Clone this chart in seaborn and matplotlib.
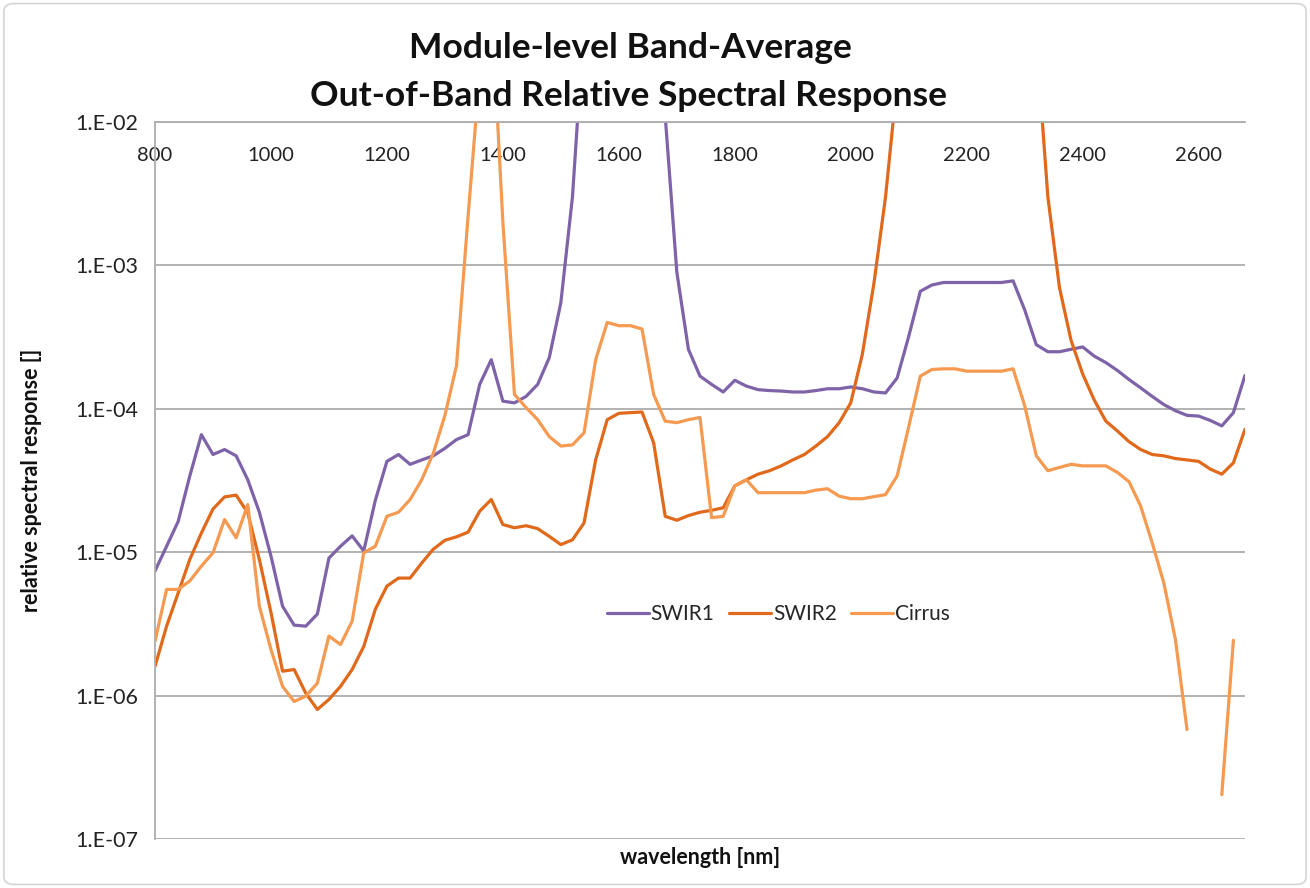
import numpy as np
import pandas as pd
import seaborn as sns
import matplotlib.pyplot as plt
from matplotlib.patches import FancyBboxPatch

# wavelength grid [nm]
wavelength = list(range(800, 2700, 20))

# band-average out-of-band relative spectral response
swir1 = [7.4e-6, 1.1e-5, 1.64e-5, 3.4e-5, 6.6e-5, 4.8e-5, 5.2e-5, 4.7e-5, 3.2e-5, 1.9e-5,
         9.4e-6, 4.2e-6, 3.1e-6, 3.05e-6, 3.7e-6, 9.1e-6, 1.1e-5, 1.3e-5, 1.02e-5, 2.3e-5,
         4.3e-5, 4.8e-5, 4.1e-5, 4.4e-5, 4.7e-5, 5.3e-5, 6.1e-5, 6.6e-5, 1.48e-4, 2.2e-4,
         1.13e-4, 1.1e-4, 1.22e-4, 1.48e-4, 2.27e-4, 5.5e-4, 3e-3, 5e-2, 1.0, 1.0,
         1.0, 1.0, 1.0, 1.0, 1.1e-2, 9e-4, 2.6e-4, 1.69e-4, 1.48e-4, 1.31e-4,
         1.58e-4, 1.44e-4, 1.36e-4, 1.34e-4, 1.33e-4, 1.31e-4, 1.31e-4, 1.34e-4, 1.38e-4, 1.38e-4,
         1.42e-4, 1.38e-4, 1.31e-4, 1.29e-4, 1.64e-4, 3.2e-4, 6.6e-4, 7.3e-4, 7.6e-4, 7.6e-4,
         7.6e-4, 7.6e-4, 7.6e-4, 7.6e-4, 7.8e-4, 4.9e-4, 2.8e-4, 2.5e-4, 2.5e-4, 2.6e-4,
         2.7e-4, 2.33e-4, 2.1e-4, 1.85e-4, 1.6e-4, 1.4e-4, 1.22e-4, 1.07e-4, 9.7e-5, 9.0e-5,
         8.9e-5, 8.3e-5, 7.6e-5, 9.4e-5, 1.71e-4]

swir2 = [1.6e-6, 3.05e-6, 5.2e-6, 8.9e-6, 1.36e-5, 2.0e-5, 2.43e-5, 2.5e-5, 1.88e-5, 8.9e-6,
         3.8e-6, 1.48e-6, 1.52e-6, 1.04e-6, 8.0e-7, 9.4e-7, 1.16e-6, 1.52e-6, 2.2e-6, 4.0e-6,
         5.8e-6, 6.6e-6, 6.6e-6, 8.4e-6, 1.05e-5, 1.21e-5, 1.28e-5, 1.38e-5, 1.93e-5, 2.33e-5,
         1.56e-5, 1.48e-5, 1.53e-5, 1.46e-5, 1.29e-5, 1.13e-5, 1.22e-5, 1.6e-5, 4.4e-5, 8.4e-5,
         9.3e-5, 9.4e-5, 9.5e-5, 5.8e-5, 1.78e-5, 1.67e-5, 1.8e-5, 1.9e-5, 1.96e-5, 2.04e-5,
         2.9e-5, 3.2e-5, 3.5e-5, 3.7e-5, 4.0e-5, 4.4e-5, 4.8e-5, 5.5e-5, 6.4e-5, 8.0e-5,
         1.1e-4, 2.4e-4, 7.5e-4, 3e-3, 1.9e-2, 0.1, 1.0, 1.0, 1.0, 1.0,
         1.0, 1.0, 1.0, 1.0, 1.0, 1.0, 3.8e-2, 3e-3, 7e-4, 3e-4,
         1.75e-4, 1.15e-4, 8.2e-5, 7.0e-5, 5.9e-5, 5.2e-5, 4.8e-5, 4.7e-5, 4.5e-5, 4.4e-5,
         4.3e-5, 3.8e-5, 3.5e-5, 4.2e-5, 7.2e-5]

cirrus = [2.4e-6, 5.5e-6, 5.5e-6, 6.3e-6, 8.0e-6, 9.9e-6, 1.69e-5, 1.26e-5, 2.15e-5, 4.2e-6,
          2.1e-6, 1.16e-6, 9.1e-7, 9.9e-7, 1.22e-6, 2.6e-6, 2.27e-6, 3.3e-6, 9.9e-6, 1.1e-5,
          1.78e-5, 1.9e-5, 2.33e-5, 3.2e-5, 4.9e-5, 9e-5, 2.0e-4, 2.2e-3, 2.2e-2, 7e-2,
          2e-3, 1.26e-4, 1.02e-4, 8.4e-5, 6.4e-5, 5.5e-5, 5.6e-5, 6.8e-5, 2.2e-4, 4.0e-4,
          3.8e-4, 3.8e-4, 3.6e-4, 1.26e-4, 8.2e-5, 8.0e-5, 8.4e-5, 8.7e-5, 1.74e-5, 1.78e-5,
          2.9e-5, 3.2e-5, 2.6e-5, 2.6e-5, 2.6e-5, 2.6e-5, 2.6e-5, 2.71e-5, 2.77e-5, 2.46e-5,
          2.36e-5, 2.36e-5, 2.44e-5, 2.52e-5, 3.4e-5, 7.5e-5, 1.69e-4, 1.88e-4, 1.9e-4, 1.9e-4,
          1.83e-4, 1.83e-4, 1.83e-4, 1.83e-4, 1.9e-4, 1.05e-4, 4.7e-5, 3.7e-5, 3.9e-5, 4.1e-5,
          4.0e-5, 4.0e-5, 4.0e-5, 3.6e-5, 3.1e-5, 2.1e-5, 1.16e-5, 6.1e-6, 2.46e-6, 5.8e-7,
          np.nan, np.nan, 2.04e-7, 2.43e-6, np.nan]

series_names = ['SWIR1', 'SWIR2', 'Cirrus']
colors = ['#7E63A8', '#E0691B', '#F59A50']

x_ticks = [800, 1000, 1200, 1400, 1600, 1800, 2000, 2200, 2400, 2600]
y_ticks = [1e-7, 1e-6, 1e-5, 1e-4, 1e-3, 1e-2]
y_tick_labels = ['1.E-07', '1.E-06', '1.E-05', '1.E-04', '1.E-03', '1.E-02']

# long table; missing (negative) values break the line into segments
rows = []
for name, vals in zip(series_names, [swir1, swir2, cirrus]):
    seg = 0
    for wl, v in zip(wavelength, vals):
        if np.isnan(v):
            seg += 1
            continue
        rows.append({'wavelength': wl, 'response': v, 'series': name,
                     'segment': f'{name}_{seg}'})
df = pd.DataFrame(rows)

sns.set_style('white')
plt.rcParams['font.family'] = ['Lato', 'DejaVu Sans']

W, H = 1310, 888
fig = plt.figure(figsize=(W / 100, H / 100), dpi=100)
ax = fig.add_axes([155 / W, 1 - 839 / H, 1090 / W, 717 / H])

sns.lineplot(data=df, x='wavelength', y='response', hue='series', units='segment',
             estimator=None, sort=False, palette=dict(zip(series_names, colors)),
             hue_order=series_names, linewidth=2.3, ax=ax)

ax.set_yscale('log')
ax.set_ylim(1e-7, 1e-2)
ax.set_xlim(800, 2680)
ax.set_yticks(y_ticks)
ax.set_yticklabels(y_tick_labels)
ax.yaxis.set_minor_locator(plt.NullLocator())
ax.set_xticks(x_ticks)
ax.set_xticklabels([str(t) for t in x_ticks])
ax.set_xlabel('')
ax.set_ylabel('')

grid_col = '#ADADAD'
ax.grid(axis='y', color=grid_col, linewidth=1.3)
ax.grid(axis='x', visible=False)
for side in ['right', 'bottom']:
    ax.spines[side].set_visible(False)
for side in ['left', 'top']:
    ax.spines[side].set_color(grid_col)
    ax.spines[side].set_linewidth(1.3)

ax.tick_params(axis='x', top=True, labeltop=True, bottom=False, labelbottom=False,
               length=0, pad=-30, labelsize=14.5, labelcolor='#222222')
ax.tick_params(axis='y', length=0, pad=12, labelsize=15.5, labelcolor='#222222')

sns.move_legend(ax, 'center', bbox_to_anchor=(0.572, 0.314), ncol=3, frameon=False,
                title=None, fontsize=15, handlelength=2.0, handletextpad=0.1,
                columnspacing=0.7)

fig.text(630 / W, 1 - 48 / H, 'Module-level Band-Average', ha='center', va='center',
         fontsize=25.5, fontweight='bold', color='#111111')
fig.text(628 / W, 1 - 96 / H, 'Out-of-Band Relative Spectral Response', ha='center',
         va='center', fontsize=25.5, fontweight='bold', color='#111111')
fig.text(700 / W, 1 - 857 / H, 'wavelength [nm]', ha='center', va='center',
         fontsize=15.5, fontweight='bold', color='#111111')
fig.text(32 / W, 1 - 480 / H, 'relative spectral response []', ha='center', va='center',
         rotation=90, fontsize=15.5, fontweight='bold', color='#111111')

fig.patches.append(FancyBboxPatch((0.003, 0.004), 0.994, 0.992,
                                  boxstyle='round,pad=0,rounding_size=0.008',
                                  transform=fig.transFigure, fill=False,
                                  edgecolor='#D5D5D5', linewidth=1.2))

fig.savefig('out.png', dpi=100)
